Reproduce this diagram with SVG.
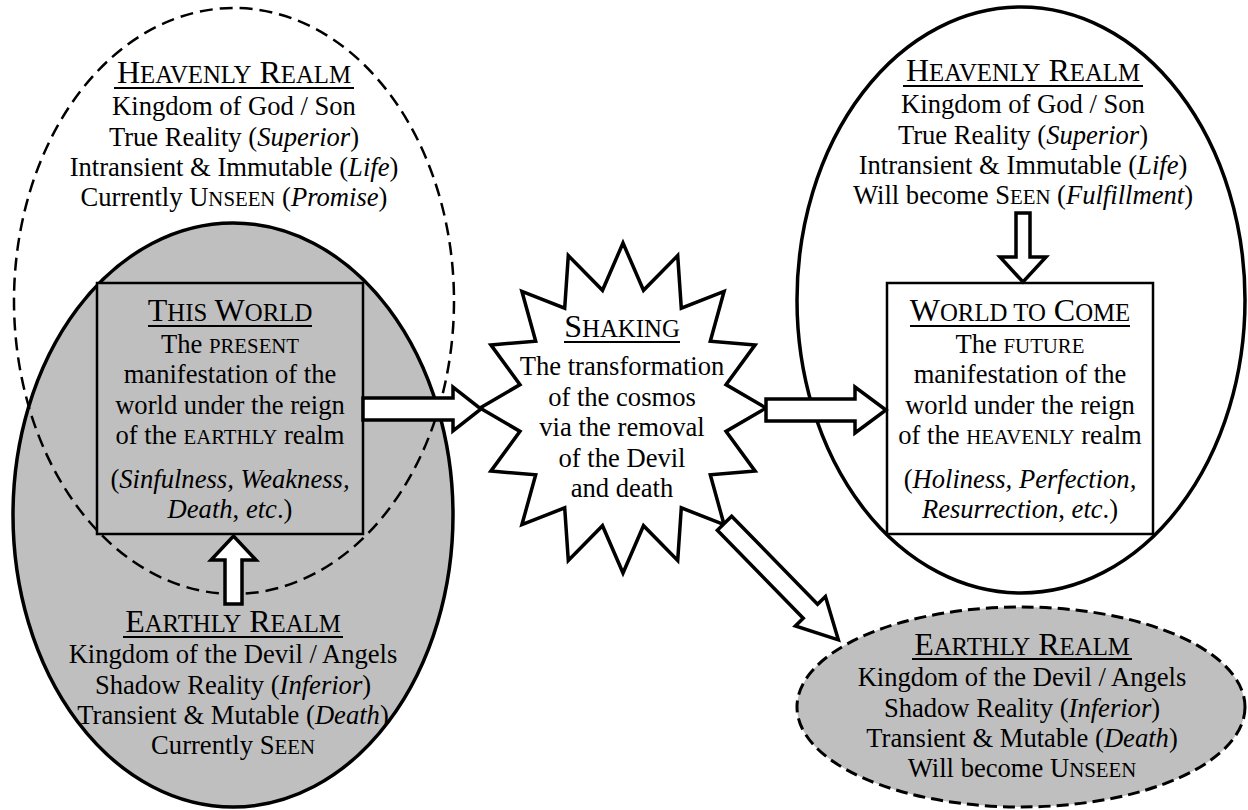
<svg xmlns="http://www.w3.org/2000/svg" width="1248" height="810" viewBox="0 0 1248 810">
<style>
text{font-family:"Liberation Serif","Times New Roman",serif;fill:#000;text-anchor:middle}
.b{font-size:26.6px}
.h{font-size:32px}
.hs{font-size:24.8px}
.bs{font-size:20.8px}
.i{font-style:italic}
.ul{stroke:#000;stroke-width:2}
.gray{fill:#bfbfbf;stroke:#000;stroke-width:3.5}
.white{fill:#fff;stroke:#000;stroke-width:3.5}
.box{stroke:#000;stroke-width:2.5}
.arrow{fill:#fff;stroke:#000;stroke-width:3.5;stroke-linejoin:miter}
</style>
<rect width="1248" height="810" fill="#fff"/>

<g id="earthly-left">
<ellipse class="gray" cx="233" cy="515" rx="220" ry="292"/>
</g>

<g id="this-world">
<rect class="box" x="97" y="283" width="266" height="251" fill="#bfbfbf"/>
<text class="h" x="230" y="321">T<tspan class="hs">HIS</tspan> W<tspan class="hs">ORLD</tspan></text>
<line class="ul" x1="148" y1="326" x2="312" y2="326"/>
<text class="b" x="230" y="353">The <tspan class="bs">PRESENT</tspan></text>
<text class="b" x="230" y="383">manifestation of the</text>
<text class="b" x="230" y="414">world under the reign</text>
<text class="b" x="230" y="444">of the <tspan class="bs">EARTHLY</tspan> realm</text>
<text class="b" x="230" y="488">(<tspan class="i">Sinfulness, Weakness,</tspan></text>
<text class="b" x="230" y="518"><tspan class="i">Death</tspan>, <tspan class="i">etc</tspan>.)</text>
</g>

<g id="heavenly-left">
<ellipse cx="234" cy="301" rx="220" ry="293" fill="none" stroke="#000" stroke-width="2.5" stroke-dasharray="13 7"/>
<text class="h" x="234" y="83">H<tspan class="hs">EAVENLY</tspan> R<tspan class="hs">EALM</tspan></text>
<line class="ul" x1="114" y1="88" x2="354" y2="88"/>
<text class="b" x="234" y="115">Kingdom of God / Son</text>
<text class="b" x="234" y="146">True Reality (<tspan class="i">Superior</tspan>)</text>
<text class="b" x="234" y="176">Intransient &amp; Immutable (<tspan class="i">Life</tspan>)</text>
<text class="b" x="234" y="206">Currently U<tspan class="bs">NSEEN</tspan> (<tspan class="i">Promise</tspan>)</text>
</g>

<g id="earthly-left-text">
<text class="h" x="233" y="632">E<tspan class="hs">ARTHLY</tspan> R<tspan class="hs">EALM</tspan></text>
<line class="ul" x1="123" y1="637" x2="343" y2="637"/>
<text class="b" x="233" y="663">Kingdom of the Devil / Angels</text>
<text class="b" x="233" y="694">Shadow Reality (<tspan class="i">Inferior</tspan>)</text>
<text class="b" x="233" y="724">Transient &amp; Mutable (<tspan class="i">Death</tspan>)</text>
<text class="b" x="233" y="754">Currently S<tspan class="bs">EEN</tspan></text>
</g>

<g id="heavenly-right">
<ellipse class="white" cx="1021" cy="300" rx="224" ry="293"/>
<text class="h" x="1023" y="81">H<tspan class="hs">EAVENLY</tspan> R<tspan class="hs">EALM</tspan></text>
<line class="ul" x1="903" y1="86" x2="1143" y2="86"/>
<text class="b" x="1023" y="113">Kingdom of God / Son</text>
<text class="b" x="1023" y="144">True Reality (<tspan class="i">Superior</tspan>)</text>
<text class="b" x="1023" y="174">Intransient &amp; Immutable (<tspan class="i">Life</tspan>)</text>
<text class="b" x="1023" y="204">Will become S<tspan class="bs">EEN</tspan> (<tspan class="i">Fulfillment</tspan>)</text>
</g>

<g id="world-to-come">
<rect class="box" x="887" y="283" width="266" height="251" fill="#fff"/>
<text class="h" x="1020" y="321">W<tspan class="hs">ORLD TO</tspan> C<tspan class="hs">OME</tspan></text>
<line class="ul" x1="910" y1="326" x2="1130" y2="326"/>
<text class="b" x="1020" y="353">The <tspan class="bs">FUTURE</tspan></text>
<text class="b" x="1020" y="383">manifestation of the</text>
<text class="b" x="1020" y="414">world under the reign</text>
<text class="b" x="1020" y="444">of the <tspan class="bs">HEAVENLY</tspan> realm</text>
<text class="b" x="1020" y="488">(<tspan class="i">Holiness, Perfection,</tspan></text>
<text class="b" x="1020" y="518"><tspan class="i">Resurrection</tspan>, <tspan class="i">etc</tspan>.)</text>
</g>

<g id="earthly-right">
<ellipse cx="1021" cy="707" rx="224" ry="100" fill="#bfbfbf" stroke="#000" stroke-width="3" stroke-dasharray="12 6"/>
<text class="h" x="1022" y="655">E<tspan class="hs">ARTHLY</tspan> R<tspan class="hs">EALM</tspan></text>
<line class="ul" x1="912" y1="659" x2="1132" y2="659"/>
<text class="b" x="1022" y="686">Kingdom of the Devil / Angels</text>
<text class="b" x="1022" y="717">Shadow Reality (<tspan class="i">Inferior</tspan>)</text>
<text class="b" x="1022" y="747">Transient &amp; Mutable (<tspan class="i">Death</tspan>)</text>
<text class="b" x="1022" y="777">Will become U<tspan class="bs">NSEEN</tspan></text>
</g>

<g id="shaking">
<polygon class="white" points="623,243 643.5,290.3 677.7,255.6 681.3,308.2 724.1,291.3 710.3,341.3 755.1,344.9 726,384.6 766,408 726,431.4 755.1,471.1 710.3,474.7 724.1,524.7 681.3,507.8 677.7,560.4 643.5,525.7 623,573 602.5,525.7 568.3,560.4 564.7,507.8 521.9,524.7 535.7,474.7 490.9,471.1 520,431.4 480,408 520,384.6 490.9,344.9 535.7,341.3 521.9,291.3 564.7,308.2 568.3,255.6 602.5,290.3"/>
<text class="h" x="622" y="337">S<tspan class="hs">HAKING</tspan></text>
<line class="ul" x1="564" y1="342" x2="680" y2="342"/>
<text class="b" x="622" y="375">The transformation</text>
<text class="b" x="622" y="406">of the cosmos</text>
<text class="b" x="622" y="436">via the removal</text>
<text class="b" x="622" y="467">of the Devil</text>
<text class="b" x="622" y="497">and death</text>
</g>

<g id="connectors">
<polygon class="arrow" points="363,398 453,398 453,387 481,409 453,431 453,420 363,420"/>
<polygon class="arrow" points="766,399 855,399 855,387 886,410 855,433 855,421 766,421"/>
<polygon class="arrow" points="1016,213 1030,213 1030,257 1046,257 1023,282 1000,257 1016,257"/>
<polygon class="arrow" points="225,604 242,604 242,560 256,560 233.5,536 211,560 225,560"/>
<polygon class="arrow" transform="translate(724.5,523.2) rotate(45.7)" points="0,-10 123,-10 123,-21 163,0 123,21 123,10 0,10"/>
</g>
</svg>
